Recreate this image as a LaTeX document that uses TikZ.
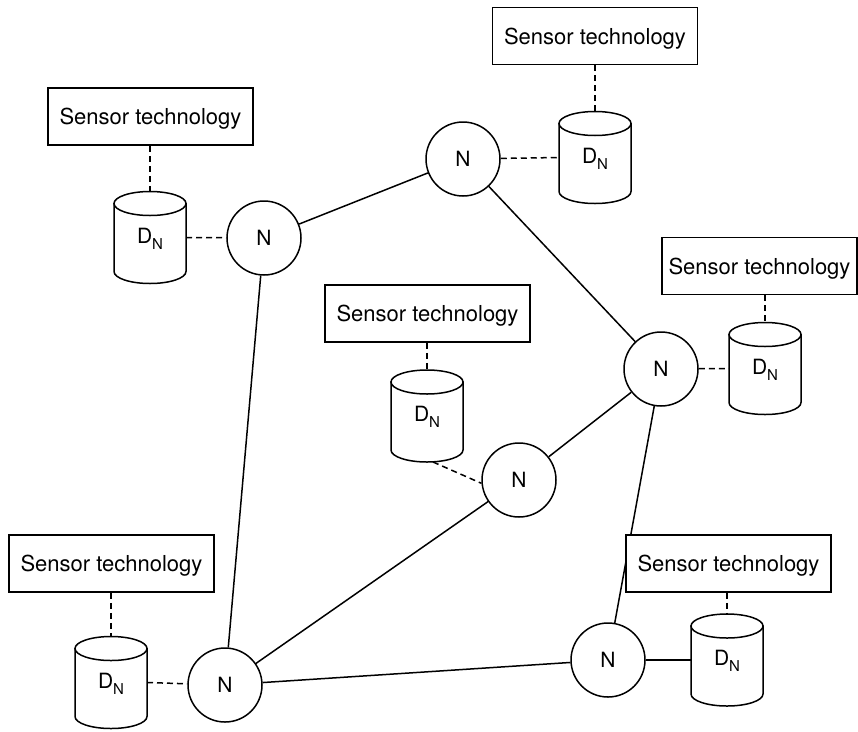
\documentclass[tikz,border=0pt]{standalone}
\usepackage{fontspec}
\setmainfont{TeX Gyre Heros}
\usetikzlibrary{backgrounds}

% database cylinder: name, x, y (centre); 72 wide, 92 high, caps 12 deep
\newcommand\dbcyl[3]{%
  \node[cylbox] (#1) at (#2,#3) {};
  \draw[cylline] (#2-36,#3-34) -- (#2-36,#3+34)
    .. controls (#2-36,#3+40.63) and (#2-19.88,#3+46) .. (#2,#3+46)
    .. controls (#2+19.88,#3+46) and (#2+36,#3+40.63) .. (#2+36,#3+34)
    -- (#2+36,#3-34) -- cycle;
  \draw[cylline] (#2-36,#3-34)
    .. controls (#2-36,#3-40.63) and (#2-19.88,#3-46) .. (#2,#3-46)
    .. controls (#2+19.88,#3-46) and (#2+36,#3-40.63) .. (#2+36,#3-34)
    .. controls (#2+36,#3-27.37) and (#2+19.88,#3-22) .. (#2,#3-22)
    .. controls (#2-19.88,#3-22) and (#2-36,#3-27.37) .. (#2-36,#3-34) -- cycle;
  \node[dlabel] (#1t) at (#2,#3+5.5) {D\raisebox{-6pt}{\fontsize{15}{16}\selectfont N}};
}

\begin{document}
\begin{tikzpicture}[x=1pt,y=-1pt,
  every node/.style={font=\fontsize{21}{24}\selectfont},
  link/.style={line width=1.5pt},
  dlink/.style={line width=1.5pt, dash pattern=on 6pt off 4pt},
  net/.style={circle, draw, line width=1.5pt, fill=white, minimum size=74pt, inner sep=0pt},
  sensor/.style={rectangle, draw, line width=1.5pt, fill=white, minimum width=205pt,
    minimum height=57pt, inner sep=0pt, text depth=0pt, font=\fontsize{22}{26}\selectfont},
  cylbox/.style={rectangle, minimum width=72pt, minimum height=92pt, inner sep=0pt, outer sep=0pt},
  cylline/.style={line width=1.5pt, fill=white},
  dlabel/.style={anchor=base, inner sep=0pt}]

\useasboundingbox (0,0) rectangle (858,731);

% network nodes
\node[net] (n1) at (264,238) {N};
\node[net] (n2) at (463,159) {N};
\node[net] (n3) at (661,369) {N};
\node[net] (n4) at (519,480) {N};
\node[net] (n5) at (225,685) {N};
\node[net] (n6) at (608,660) {N};

% local data stores
\dbcyl{c1}{150}{237.5}
\dbcyl{c2}{595}{157.5}
\dbcyl{c3}{765}{368.5}
\dbcyl{c4}{427}{416}
\dbcyl{c5}{111}{682.5}
\dbcyl{c6}{727}{660}

% sensor boxes
\node[sensor] (s1) at (150.5,116.5) {Sensor technology};
\node[sensor] (s2) at (595,36) {Sensor technology};
\node[sensor, minimum width=195pt] (s3) at (759.5,266) {Sensor technology};
\node[sensor] (s4) at (427.5,313.5) {Sensor technology};
\node[sensor] (s5) at (111.5,563.5) {Sensor technology};
\node[sensor] (s6) at (728.5,563.5) {Sensor technology};

\begin{pgfonlayer}{background}
  % links between network nodes
  \draw[link] (n1) -- (n2);
  \draw[link] (n1) -- (n5);
  \draw[link] (n2) -- (n3);
  \draw[link] (n3) -- (n4);
  \draw[link] (n3) -- (n6);
  \draw[link] (n4) -- (n5);
  \draw[link] (n5) -- (n6);
  \draw[link] (n6) -- (c6.west);
  % node to data store
  \draw[dlink] (c1.east) -- (n1);
  \draw[dlink] (n2) -- (c2.west);
  \draw[dlink] (n3) -- (c3.west);
  \draw[dlink] ([xshift=6pt]c4.south) -- (n4.185);
  \draw[dlink] (c5.east) -- (n5);
  % sensor to data store
  \draw[dlink] (c1.north |- s1.south) -- (c1.north);
  \draw[dlink] (c2.north |- s2.south) -- (c2.north);
  \draw[dlink] (c3.north |- s3.south) -- (c3.north);
  \draw[dlink] (c4.north |- s4.south) -- (c4.north);
  \draw[dlink] (c5.north |- s5.south) -- (c5.north);
  \draw[dlink] (c6.north |- s6.south) -- (c6.north);
\end{pgfonlayer}
\end{tikzpicture}
\end{document}
